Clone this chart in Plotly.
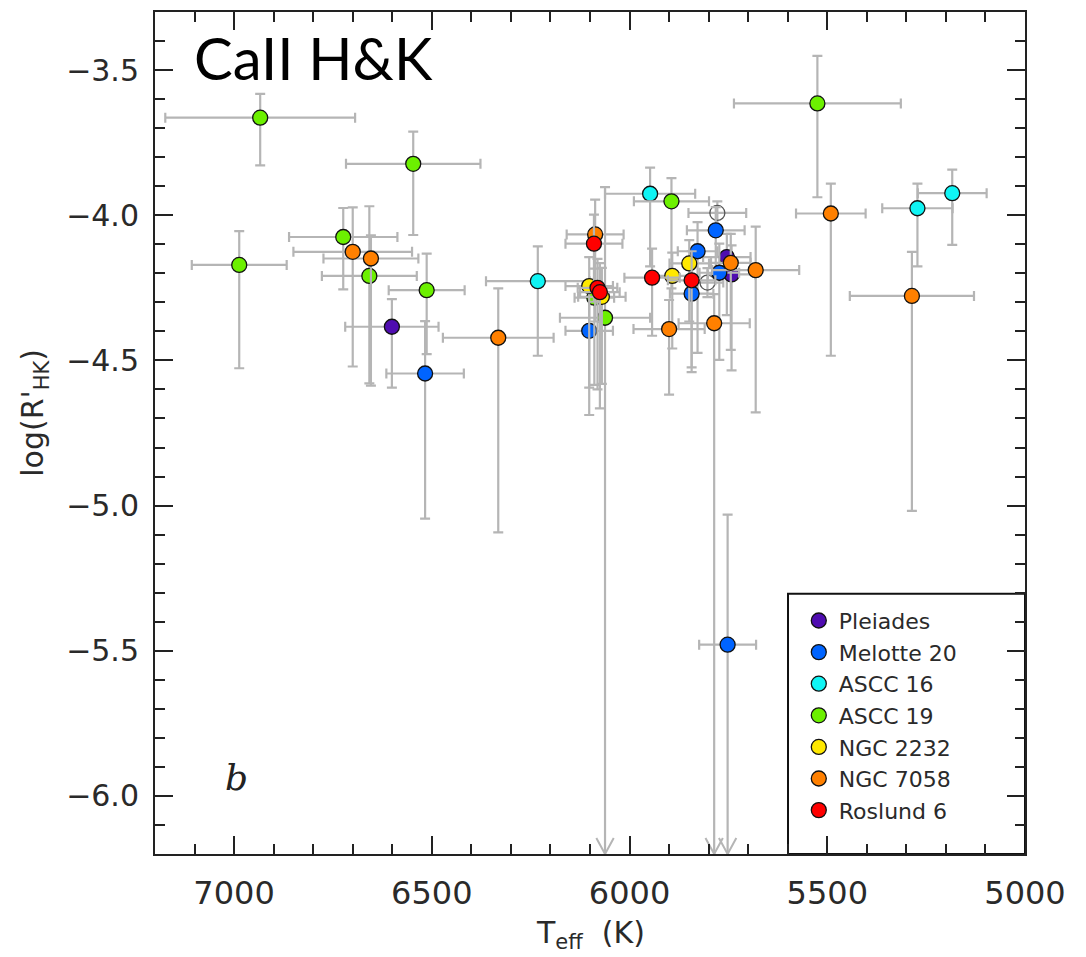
import plotly.graph_objects as go

# ---------------- data ----------------
series_names = ["Pleiades", "Melotte 20", "ASCC 16", "ASCC 19", "NGC 2232", "NGC 7058", "Roslund 6"]

pleiades_teff = [6601, 5754, 5742]
pleiades_logr = [-4.384, -4.144, -4.204]
pleiades_terr = [118, 60, 60]
pleiades_up = [0.095, 0.08, 0.10]
pleiades_dn = [0.21, 0.20, 0.33]

melotte_teff = [6517, 6102, 5782, 5828, 5773, 5843, 5752]
melotte_logr = [-4.545, -4.398, -4.052, -4.124, -4.198, -4.270, -5.479]
melotte_terr = [98, 60, 73, 50, 50, 55, 72]
melotte_up = [0.18, 0.15, 0.08, 0.10, 0.10, 0.10, 0.448]
melotte_dn = [0.50, 0.29, 0.15, 0.35, 0.30, 0.27, 1.50]

ascc16_teff = [6232, 5948, 5272, 5184]
ascc16_logr = [-4.227, -3.926, -3.976, -3.924]
ascc16_terr = [131, 114, 89, 87]
ascc16_up = [0.12, 0.09, 0.085, 0.081]
ascc16_dn = [0.257, 0.25, 0.20, 0.178]

ascc19_teff = [6934, 6547, 6987, 6724, 6658, 6513, 5894, 5525, 6089, 6062]
ascc19_logr = [-3.664, -3.823, -4.171, -4.075, -4.209, -4.258, -3.952, -3.615, -4.284, -4.353]
ascc19_terr = [240, 170, 120, 137, 120, 96, 95, 211, 50, 114]
ascc19_up = [0.082, 0.111, 0.116, 0.10, 0.24, 0.126, 0.08, 0.164, 0.10, 0.45]
ascc19_dn = [0.164, 0.245, 0.356, 0.18, 0.37, 0.22, 0.30, 0.323, 0.30, 2.00]

ngc2232_teff = [5849, 5892, 6102, 6070]
ngc2232_logr = [-4.166, -4.209, -4.244, -4.281]
ngc2232_terr = [50, 50, 60, 60]
ngc2232_up = [0.08, 0.08, 0.10, 0.10]
ngc2232_dn = [0.20, 0.25, 0.35, 0.30]

ngc7058_teff = [6700, 6654, 6332, 6087, 5744, 5681, 5900, 5786, 5491, 5286]
ngc7058_logr = [-4.126, -4.149, -4.422, -4.066, -4.164, -4.189, -4.392, -4.372, -3.994, -4.278]
ngc7058_terr = [150, 120, 140, 72, 50, 110, 90, 90, 88, 157]
ngc7058_up = [0.153, 0.08, 0.17, 0.12, 0.10, 0.15, 0.10, 0.10, 0.103, 0.152]
ngc7058_dn = [0.395, 0.438, 0.67, 0.30, 0.30, 0.49, 0.226, 2.00, 0.49, 0.74]

roslund_teff = [6090, 6081, 6075, 5943, 5843]
roslund_logr = [-4.098, -4.250, -4.265, -4.215, -4.224]
roslund_terr = [72, 50, 50, 70, 60]
roslund_up = [0.10, 0.10, 0.10, 0.10, 0.10]
roslund_dn = [0.20, 0.35, 0.40, 0.20, 0.30]

open_teff = [5778, 5803]
open_logr = [-3.992, -4.232]
open_terr = [73, 40]
open_up = [0.04, 0.05]
open_dn = [0.05, 0.05]

series_colors = ["#4f0cb0", "#0064ff", "#10f4f4", "#6cf000", "#ffe800", "#ff8000", "#ff0000"]

x_ticks = [7000, 6500, 6000, 5500, 5000]
y_ticks = [-3.5, -4.0, -4.5, -5.0, -5.5, -6.0]
x_range = [7200, 5000]
y_range = [-6.2, -3.3]

# ---------------------------------------------------------------
series = [
    (pleiades_teff, pleiades_logr, pleiades_terr, pleiades_up, pleiades_dn),
    (melotte_teff, melotte_logr, melotte_terr, melotte_up, melotte_dn),
    (ascc16_teff, ascc16_logr, ascc16_terr, ascc16_up, ascc16_dn),
    (ascc19_teff, ascc19_logr, ascc19_terr, ascc19_up, ascc19_dn),
    (ngc2232_teff, ngc2232_logr, ngc2232_terr, ngc2232_up, ngc2232_dn),
    (ngc7058_teff, ngc7058_logr, ngc7058_terr, ngc7058_up, ngc7058_dn),
    (roslund_teff, roslund_logr, roslund_terr, roslund_up, roslund_dn),
]

ERR_COLOR = "#b5b5b5"
fig = go.Figure()

# arrows for error bars running off the bottom of the plot
arrow_x, arrow_y = [], []
for (tx, ly, te, up, dn) in series + [(open_teff, open_logr, open_terr, open_up, open_dn)]:
    for t, l, d in zip(tx, ly, dn):
        if l - d < y_range[0]:
            arrow_x += [t + 22, t, t - 22, None]
            arrow_y += [y_range[0] + 0.055, y_range[0], y_range[0] + 0.055, None]

fig.add_trace(go.Scatter(x=arrow_x, y=arrow_y, mode="lines",
                         line=dict(color=ERR_COLOR, width=2), showlegend=False,
                         hoverinfo="skip"))

def add_series(tx, ly, te, up, dn, name, color, legend=True, fill=None):
    fig.add_trace(go.Scatter(
        x=tx, y=ly, mode="markers", name=name, showlegend=legend,
        marker=dict(size=15, color=fill if fill else color, symbol="circle",
                    line=dict(color="#111111" if not fill else "#555555", width=1.3)),
        error_x=dict(type="data", array=te, color=ERR_COLOR, thickness=2.2, width=5),
        error_y=dict(type="data", symmetric=False, array=up, arrayminus=dn,
                     color=ERR_COLOR, thickness=2.2, width=5),
    ))

add_series(open_teff, open_logr, open_terr, open_up, open_dn, "other", "#ffffff",
           legend=False, fill="rgba(255,255,255,0)")
for (tx, ly, te, up, dn), nm, col in zip(series, series_names, series_colors):
    add_series(tx, ly, te, up, dn, nm, col)

axis_common = dict(
    showline=True, linecolor="#222222", linewidth=2, mirror="allticks",
    ticks="inside", ticklen=18, tickwidth=2, tickcolor="#222222",
    showgrid=False, zeroline=False,
)

fig.update_xaxes(
    range=x_range, tickvals=x_ticks, ticktext=[str(v) for v in x_ticks],
    minor=dict(dtick=100, ticks="inside", ticklen=10, tickwidth=2, tickcolor="#222222"),
    tickfont=dict(family="DejaVu Sans", size=32, color="#2a2a2a"),
    ticklabelstandoff=10,
    **axis_common,
)
fig.update_yaxes(
    range=y_range, tickvals=y_ticks, tickformat=".1f",
    minor=dict(dtick=0.1, ticks="inside", ticklen=10, tickwidth=2, tickcolor="#222222"),
    tickfont=dict(family="DejaVu Sans", size=30, color="#2a2a2a"),
    ticklabelstandoff=8,
    **axis_common,
)

# legend box (drawn as shape, legend itself transparent)
fig.add_shape(type="rect", xref="paper", yref="paper", x0=0.7276, x1=1.0, y0=0.0, y1=0.309,
              line=dict(color="#111111", width=2), fillcolor="white", layer="below")

fig.update_layout(
    width=1078, height=949,
    margin=dict(l=147, r=61, t=2, b=103),
    paper_bgcolor="white", plot_bgcolor="rgba(0,0,0,0)",
    showlegend=True,
    legend=dict(x=0.74, y=0.302, xanchor="left", yanchor="top",
                bgcolor="rgba(0,0,0,0)", borderwidth=0,
                font=dict(family="DejaVu Sans", size=22, color="#2a2a2a"),
                itemsizing="trace", tracegroupgap=0),
    annotations=[
        dict(text="CaII H&K", xref="paper", yref="paper", x=0.042, y=0.946,
             xanchor="left", yanchor="middle", showarrow=False,
             font=dict(family="Lato", size=58, color="black")),
        dict(text="<i>b</i>", xref="paper", yref="paper", x=0.094, y=0.091,
             xanchor="center", yanchor="middle", showarrow=False,
             font=dict(family="DejaVu Serif", size=36, color="#222222")),
        dict(text="log(R'<sub>HK</sub>)", xref="paper", yref="paper", x=-0.138, y=0.524,
             xanchor="center", yanchor="middle", textangle=-90, showarrow=False,
             font=dict(family="DejaVu Sans", size=30, color="#2a2a2a")),
        dict(text="T<sub>eff</sub>  (K)", xref="paper", yref="paper", x=0.5, y=-0.096,
             xanchor="center", yanchor="middle", showarrow=False,
             font=dict(family="DejaVu Sans", size=30, color="#2a2a2a")),
    ],
)

fig.write_html("out.html")
